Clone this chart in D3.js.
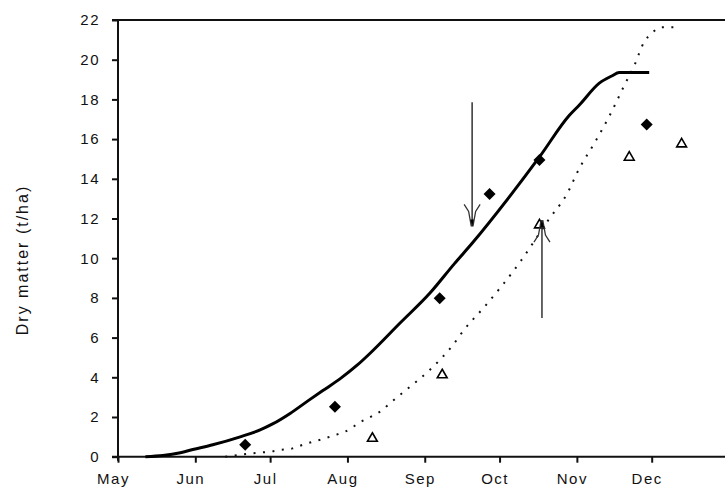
<!DOCTYPE html>
<html>
<head>
<meta charset="utf-8">
<script src="https://cdn.jsdelivr.net/npm/d3@7"></script>
<style>
  body { margin: 0; background: #fff; }
  svg { display: block; }
  text { font-family: "Liberation Sans", Arial, sans-serif; fill: #111; }
</style>
</head>
<body>
<svg id="chart" width="725" height="487"></svg>
<script>
// ticks
const monthTicks = ["2001-05-01", "2001-06-01", "2001-07-01", "2001-08-01", "2001-09-01", "2001-10-01", "2001-11-01", "2001-12-01"];
const yTicks = [0, 2, 4, 6, 8, 10, 12, 14, 16, 18, 20, 22];

// simulated, treatment 1 (solid)
const simADates = ["2001-05-12", "2001-05-19", "2001-05-26", "2001-05-31", "2001-06-08", "2001-06-19", "2001-06-27", "2001-07-02",
  "2001-07-09", "2001-07-16", "2001-07-22", "2001-07-29", "2001-08-05", "2001-08-10", "2001-08-22", "2001-09-03",
  "2001-09-13", "2001-09-20", "2001-10-05", "2001-10-17", "2001-10-29", "2001-11-02", "2001-11-10", "2001-11-15",
  "2001-11-18", "2001-11-30"];
const simAValues = [0, 0.06, 0.2, 0.36, 0.6, 1.0, 1.35, 1.65,
  2.18, 2.8, 3.32, 3.92, 4.62, 5.2, 6.72, 8.23,
  9.74, 10.75, 13.1, 15.1, 17.2, 17.72, 18.82, 19.18,
  19.35, 19.35];

// simulated, treatment 2 (dotted)
const simBDates = ["2001-06-13", "2001-06-26", "2001-07-01", "2001-07-05", "2001-07-10", "2001-07-15", "2001-07-22", "2001-07-26",
  "2001-07-31", "2001-08-07", "2001-08-11", "2001-08-15", "2001-08-18", "2001-08-24", "2001-09-03", "2001-09-12",
  "2001-09-17", "2001-09-25", "2001-10-09", "2001-10-21", "2001-10-28", "2001-11-02", "2001-11-08", "2001-11-15",
  "2001-11-20", "2001-11-24", "2001-11-28", "2001-12-01", "2001-12-05", "2001-12-12"];
const simBValues = [0, 0.2, 0.25, 0.34, 0.42, 0.64, 0.89, 1.05,
  1.26, 1.8, 2.05, 2.35, 2.69, 3.31, 4.37, 5.58,
  6.43, 7.56, 9.77, 12.0, 13.23, 14.53, 15.79, 17.4,
  18.7, 19.7, 20.9, 21.33, 21.63, 21.63];

// observed, treatment 1 (diamonds)
const obsADates = ["2001-06-21", "2001-07-27", "2001-09-07", "2001-09-27", "2001-10-17", "2001-11-29"];
const obsAValues = [0.6, 2.52, 7.98, 13.23, 14.95, 16.74];

// observed, treatment 2 (open triangles)
const obsBDates = ["2001-08-11", "2001-09-08", "2001-10-17", "2001-11-22", "2001-12-13"];
const obsBValues = [0.92, 4.12, 11.67, 15.08, 15.75];

// annotation arrows: date, start value, tip value
const arrowDates = ["2001-09-20", "2001-10-18"];
const arrowFrom = [17.86, 6.99];
const arrowTo = [11.6, 11.92];

const parse = d3.timeParse("%Y-%m-%d");
const svg = d3.select("#chart");

const x = d3.scaleTime()
    .domain([parse("2001-05-01"), parse("2002-01-01")])
    .range([118, 729]);
const y = d3.scaleLinear().domain([0, 22]).range([456.7, 20]);

let zip = (ds, vs) => ds.map((d, i) => ({date: parse(d), value: vs[i]}));
let simA = zip(simADates, simAValues);
let simB = zip(simBDates, simBValues);
let obsA = zip(obsADates, obsAValues);
let obsB = zip(obsBDates, obsBValues);

// frame
svg.append("line")
    .attr("x1", 112).attr("x2", 725)
    .attr("y1", y(22)).attr("y2", y(22))
    .attr("stroke", "#111").attr("stroke-width", 2);
svg.append("line")
    .attr("x1", 118).attr("x2", 118)
    .attr("y1", y(22)).attr("y2", y(0) + 4)
    .attr("stroke", "#111").attr("stroke-width", 2);

// y axis
let yAxis = svg.append("g")
    .attr("transform", "translate(118,0)")
    .call(d3.axisLeft(y).tickValues(yTicks).tickSize(6).tickSizeOuter(0).tickPadding(12));
yAxis.select(".domain").remove();
yAxis.selectAll(".tick line").attr("stroke", "#111").attr("stroke-width", 2);
yAxis.selectAll(".tick text")
    .attr("font-size", 15)
    .attr("letter-spacing", 1.5)
    .attr("font-family", "Liberation Sans, Arial, sans-serif")
    .attr("fill", "#111");

// x axis
let xAxis = svg.append("g")
    .attr("transform", `translate(0,${y(0)})`)
    .call(d3.axisBottom(x).tickValues(monthTicks.map(parse)).tickFormat(d3.timeFormat("%b")).tickSize(6).tickSizeOuter(0));
xAxis.select(".domain").remove();
svg.append("line")
    .attr("x1", 112).attr("x2", 725)
    .attr("y1", y(0)).attr("y2", y(0))
    .attr("stroke", "#111").attr("stroke-width", 2);
xAxis.selectAll(".tick line").attr("stroke", "#111").attr("stroke-width", 2);
xAxis.selectAll(".tick text")
    .attr("y", 27.5).attr("dy", 0).attr("dx", -5)
    .attr("font-size", 15)
    .attr("letter-spacing", 1.5)
    .attr("font-family", "Liberation Sans, Arial, sans-serif")
    .attr("fill", "#111");

// y label
svg.append("text")
    .attr("transform", "translate(28,260) rotate(-90)")
    .attr("text-anchor", "middle")
    .attr("font-size", 16)
    .attr("letter-spacing", 2)
    .text("Dry matter (t/ha)");

// lines
let line = d3.line().x(d => x(d.date)).y(d => y(d.value)).curve(d3.curveMonotoneX);

svg.append("path")
    .datum(simB)
    .attr("fill", "none")
    .attr("stroke", "#111")
    .attr("stroke-width", 2)
    .attr("stroke-dasharray", "2 7.5")
    .attr("d", line);

svg.append("path")
    .datum(simA)
    .attr("fill", "none")
    .attr("stroke", "#000")
    .attr("stroke-width", 3)
    .attr("d", line);

// observed points
svg.selectAll(".diamond")
    .data(obsA)
    .enter().append("path")
    .attr("class", "diamond")
    .attr("d", d3.symbol(d3.symbolSquare, 72))
    .attr("transform", d => `translate(${x(d.date)},${y(d.value)}) rotate(45)`)
    .attr("fill", "#000");

svg.selectAll(".tri")
    .data(obsB)
    .enter().append("path")
    .attr("class", "tri")
    .attr("d", d3.symbol(d3.symbolTriangle, 42))
    .attr("transform", d => `translate(${x(d.date)},${y(d.value)})`)
    .attr("fill", "#fff")
    .attr("stroke", "#000")
    .attr("stroke-width", 1.6);

// arrows
for (let i = 0; i < arrowDates.length; i++){
    let ax = x(parse(arrowDates[i]));
    let y0 = y(arrowFrom[i]);
    let y1 = y(arrowTo[i]);
    let s = y1 > y0 ? -1 : 1; // barbs go back toward the tail
    svg.append("line")
        .attr("x1", ax).attr("x2", ax)
        .attr("y1", y0).attr("y2", y1)
        .attr("stroke", "#333").attr("stroke-width", 1.5);
    for (let side of [-1, 1]){
        svg.append("path")
            .attr("d", d3.line()([[ax + side * 0.8, y1], [ax + side * 3.5, y1 + s * 15], [ax + side * 8, y1 + s * 22]]))
            .attr("fill", "none")
            .attr("stroke", "#333")
            .attr("stroke-width", 1.3);
    }
    svg.append("path")
        .attr("d", d3.line()([[ax - 1.8, y1 + s * 7], [ax + 1.8, y1 + s * 7], [ax, y1]]))
        .attr("fill", "#000");
}
</script>
</body>
</html>
